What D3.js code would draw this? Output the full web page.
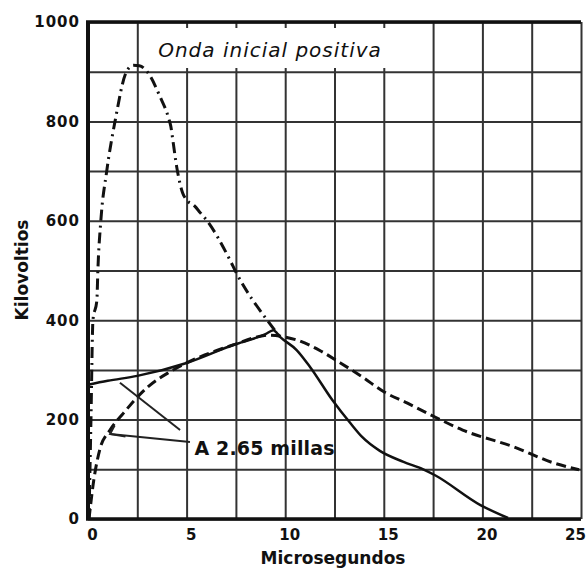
<!DOCTYPE html>
<html>
<head>
<meta charset="utf-8">
<script src="https://cdn.jsdelivr.net/npm/d3@7"></script>
<style>
  body { margin: 0; background: #fff; }
  svg { display: block; }
  text { font-family: "DejaVu Sans", sans-serif; fill: #111; }
</style>
</head>
<body>
<div id="chart"></div>
<script>
// microseconds / kilovolts
let dashDotX = [0.05, 0.15, 0.25, 0.45, 0.5, 0.65, 0.95, 1.37, 1.95, 2.3, 2.6, 3.0, 3.65, 4.1, 4.2, 4.3, 4.5, 4.8, 5.0, 5.4, 5.7, 6.0, 7.2, 7.5, 9.2, 9.7];
let dashDotY = [0, 200, 400, 440, 500, 600, 700, 800, 900, 913, 912, 900, 850, 805, 790, 763, 708, 656, 642, 630, 616, 602, 521, 497, 394, 368];

let solidX = [0, 1.0, 2.5, 5.0, 7.35, 9.0, 9.4, 9.75, 10.58, 11.26, 12.4, 13.3, 13.9, 14.8, 16.0, 17.0, 17.6, 19.9, 21.3];
let solidY = [270, 278, 288, 314, 350, 372, 380, 366, 340, 306, 239, 193, 165, 137, 115, 100, 88, 28, 2];

let dashedX = [0.05, 0.3, 0.6, 1.1, 1.8, 2.5, 3.1, 4.15, 5.0, 7.35, 9.2, 10.0, 10.6, 11.8, 12.8, 13.9, 15.0, 16.2, 17.2, 19.0, 21.6, 23.6, 24.9];
let dashedY = [0, 80, 140, 178, 213, 245, 268, 296, 314, 350, 370, 366, 360, 338, 314, 286, 256, 233, 213, 179, 145, 113, 99];

let xGrid = [0, 2.5, 5, 7.5, 10, 12.5, 15, 17.5, 20, 22.5, 25];
let yGrid = [0, 100, 200, 300, 400, 500, 600, 700, 800, 900, 1000];
let xTickLabels = [0, 5, 10, 15, 20, 25];
let yTickLabels = [0, 200, 400, 600, 800, 1000];

let width = 586,
    height = 577;

let x = d3.scaleLinear().domain([0, 25]).range([88, 581]);
let y = d3.scaleLinear().domain([0, 1000]).range([519, 22]);

let svg = d3.select('#chart').append('svg')
    .attr('width', width)
    .attr('height', height);

// grid
svg.append('g')
    .attr('transform', 'translate(0,' + y(0) + ')')
    .call(d3.axisBottom(x).tickValues(xGrid).tickSize(-(y(0) - y(1000))).tickFormat(''))
    .call(g => g.select('.domain').remove())
    .call(g => g.selectAll('line').attr('stroke', '#333').attr('stroke-width', 2));

svg.append('g')
    .attr('transform', 'translate(' + x(0) + ',0)')
    .call(d3.axisLeft(y).tickValues(yGrid).tickSize(-(x(25) - x(0))).tickFormat(''))
    .call(g => g.select('.domain').remove())
    .call(g => g.selectAll('line').attr('stroke', '#333').attr('stroke-width', 2));

// white box behind title
svg.append('rect')
    .attr('x', 146).attr('y', 28)
    .attr('width', 280).attr('height', 40)
    .attr('fill', '#fff');

// frame
svg.append('line').attr('x1', x(0)).attr('x2', x(0)).attr('y1', y(1000) - 1).attr('y2', y(0) + 1)
    .attr('stroke', '#111').attr('stroke-width', 4);
svg.append('line').attr('x1', x(0) - 2).attr('x2', x(25)).attr('y1', y(0)).attr('y2', y(0))
    .attr('stroke', '#111').attr('stroke-width', 3.5);
svg.append('line').attr('x1', x(0) - 2).attr('x2', x(25)).attr('y1', y(1000)).attr('y2', y(1000))
    .attr('stroke', '#111').attr('stroke-width', 3.5);

// tick labels
svg.append('g')
    .attr('transform', 'translate(0,' + y(0) + ')')
    .call(d3.axisBottom(x).tickValues(xTickLabels).tickSize(0).tickPadding(10))
    .call(g => g.select('.domain').remove())
    .call(g => g.selectAll('text')
        .attr('dx', d => d === 25 ? -6 : 4)
        .style('font-size', '15px')
        .style('font-weight', 'bold')
        .style('font-family', '"DejaVu Sans", sans-serif')
        .attr('fill', '#111'));

svg.append('g')
    .attr('transform', 'translate(' + x(0) + ',0)')
    .call(d3.axisLeft(y).tickValues(yTickLabels).tickSize(0).tickPadding(8).tickFormat(d3.format('d')))
    .call(g => g.select('.domain').remove())
    .call(g => g.selectAll('text')
        .style('font-size', '15px')
        .style('font-weight', 'bold')
        .style('letter-spacing', '1px')
        .style('font-family', '"DejaVu Sans", sans-serif')
        .attr('fill', '#111'));

// curves
let line = d3.line()
    .curve(d3.curveMonotoneX)
    .x(d => x(d[0]))
    .y(d => y(d[1]));

svg.append('path')
    .datum(d3.zip(dashedX, dashedY))
    .attr('d', line)
    .attr('fill', 'none')
    .attr('stroke', '#111')
    .attr('stroke-width', 3)
    .attr('stroke-dasharray', '10,5');

svg.append('path')
    .datum(d3.zip(solidX, solidY))
    .attr('d', line)
    .attr('fill', 'none')
    .attr('stroke', '#111')
    .attr('stroke-width', 2.5);

svg.append('path')
    .datum(d3.zip(dashDotX, dashDotY))
    .attr('d', line)
    .attr('fill', 'none')
    .attr('stroke', '#111')
    .attr('stroke-width', 3)
    .attr('stroke-dasharray', '11,5,2,5');

// annotation leaders
let leader = svg.append('g').attr('stroke', '#222').attr('stroke-width', 2).attr('fill', 'none');
leader.append('path')
    .attr('d', d3.line()([[x(5.17), y(155)], [x(1.12), y(171)]]));
leader.append('path')
    .attr('d', d3.line()([[x(1.9), y(166)], [x(1.12), y(171)], [x(1.35), y(188)]]));
leader.append('path')
    .attr('d', d3.line()([[x(4.67), y(179)], [x(1.62), y(274)]]));

svg.append('text')
    .attr('x', x(5.4))
    .attr('y', y(128))
    .style('font-size', '19px')
    .style('font-weight', 'bold')
    .attr('textLength', 140)
    .text('A 2.65 millas');

// titles
svg.append('text')
    .attr('x', 270)
    .attr('y', 57)
    .attr('text-anchor', 'middle')
    .style('font-size', '20px')
    .style('font-style', 'italic')
    .style('letter-spacing', '1px')
    .text('Onda inicial positiva');

svg.append('text')
    .attr('x', 333)
    .attr('y', 564)
    .attr('text-anchor', 'middle')
    .style('font-size', '17px')
    .style('font-weight', 'bold')
    .text('Microsegundos');

svg.append('text')
    .attr('transform', 'translate(28,270) rotate(-90)')
    .attr('text-anchor', 'middle')
    .style('font-size', '17px')
    .style('font-weight', 'bold')
    .text('Kilovoltios');
</script>
</body>
</html>
